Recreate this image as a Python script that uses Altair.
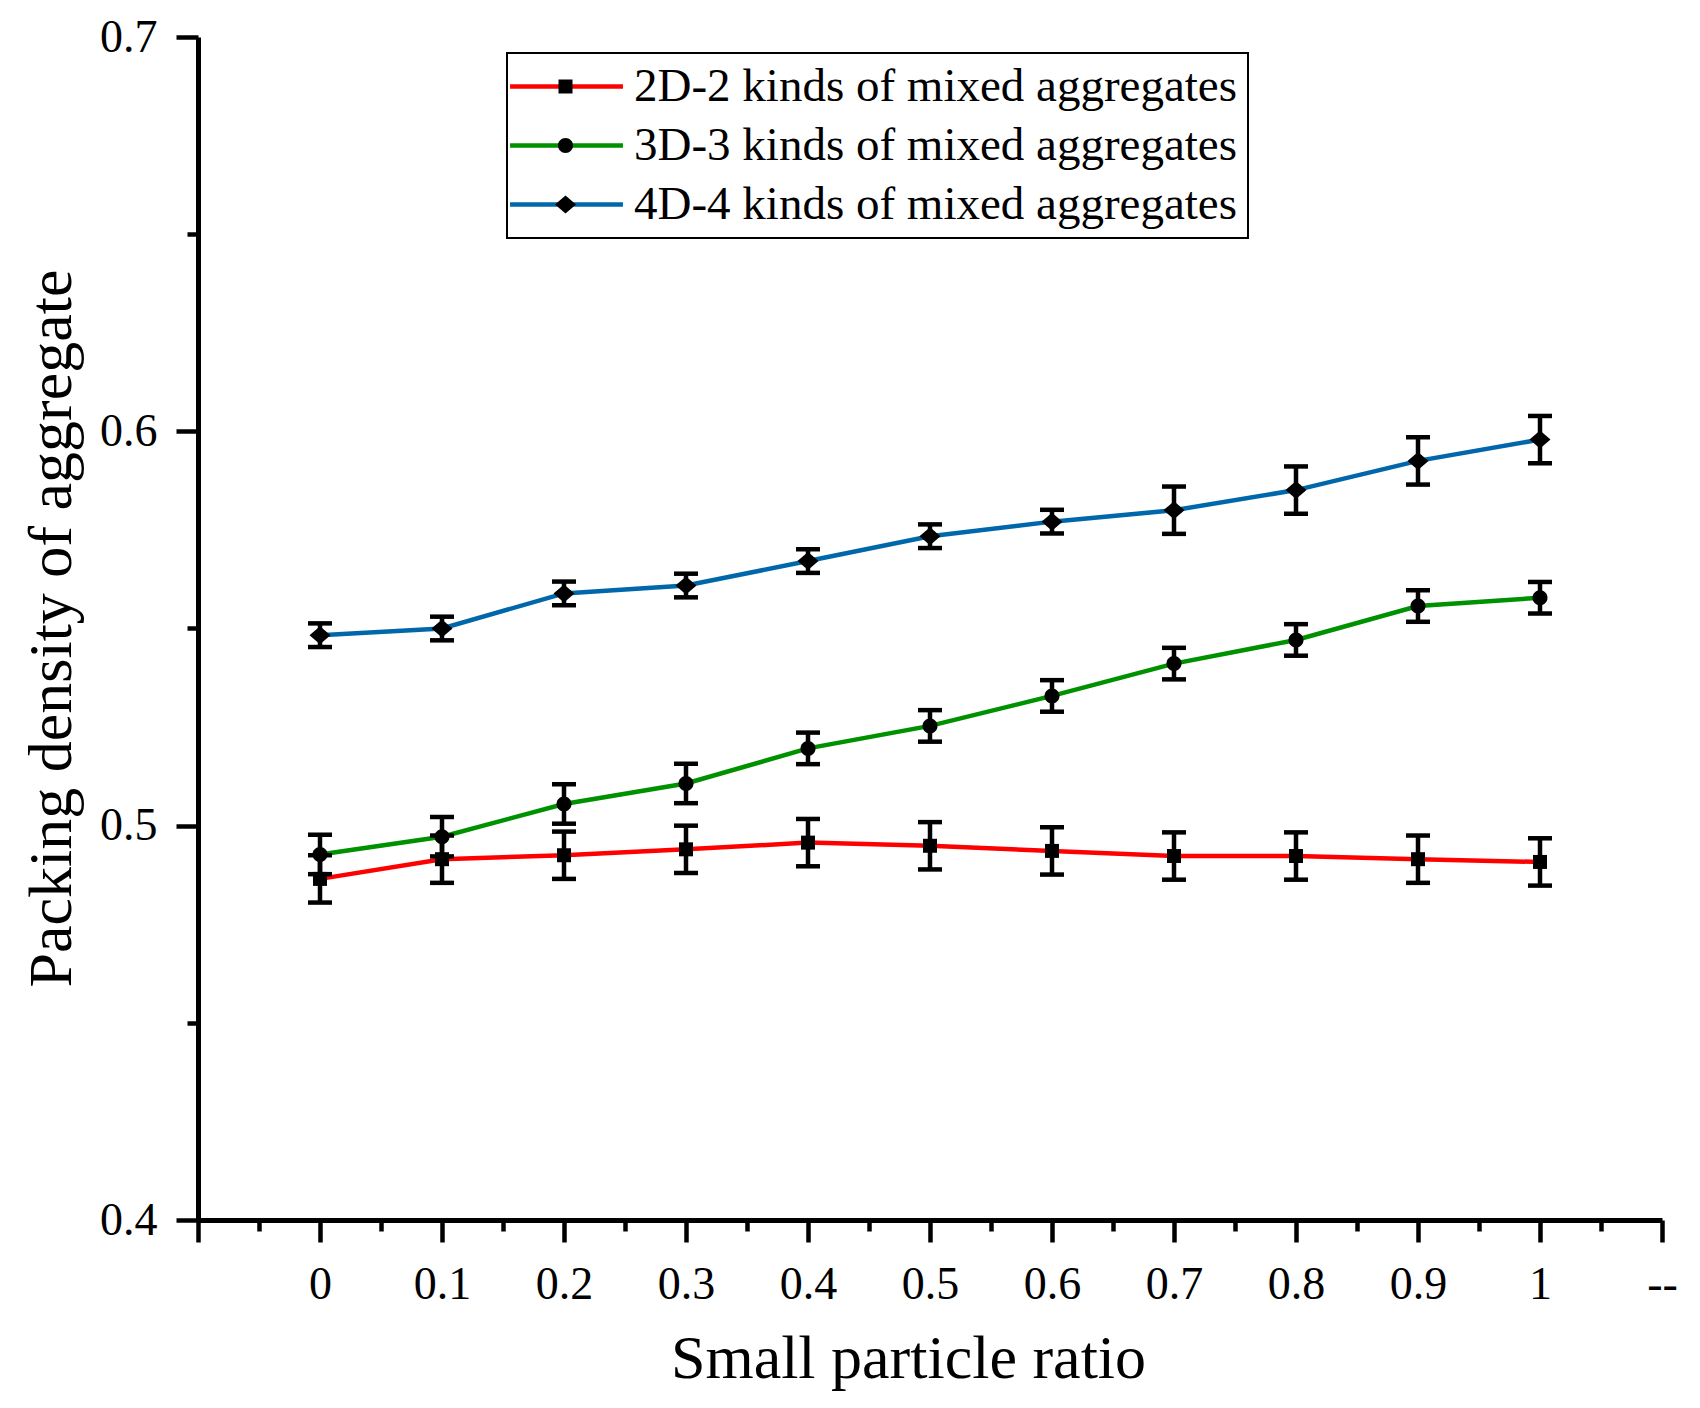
import altair as alt
import pandas as pd

# ---- data ----
ratio = [0.0, 0.1, 0.2, 0.3, 0.4, 0.5, 0.6, 0.7, 0.8, 0.9, 1.0]

series_names = [
    "2D-2 kinds of mixed aggregates",
    "3D-3 kinds of mixed aggregates",
    "4D-4 kinds of mixed aggregates",
]

d2_mean = [0.4865, 0.4915, 0.4925, 0.4940, 0.4957, 0.4949, 0.4936, 0.4923, 0.4923, 0.4915, 0.4908]
d2_err = [0.006, 0.006, 0.006, 0.006, 0.006, 0.006, 0.006, 0.006, 0.006, 0.006, 0.006]

d3_mean = [0.4927, 0.4972, 0.5055, 0.5107, 0.5196, 0.5253, 0.5329, 0.5411, 0.5471, 0.5557, 0.5578]
d3_err = [0.005, 0.005, 0.005, 0.005, 0.004, 0.004, 0.004, 0.004, 0.004, 0.004, 0.004]

d4_mean = [0.5483, 0.5500, 0.5589, 0.5609, 0.5671, 0.5734, 0.5771, 0.5800, 0.5851, 0.5925, 0.5979]
d4_err = [0.003, 0.003, 0.003, 0.003, 0.003, 0.003, 0.003, 0.006, 0.006, 0.006, 0.006]

line_colors = ["#FF0000", "#009100", "#0068AA"]

x_tick_values = [round(-0.1 + 0.05 * i, 2) for i in range(25)]
y_tick_values = [round(0.4 + 0.05 * i, 2) for i in range(7)]

rows = []
for name, means, errs in zip(series_names, [d2_mean, d3_mean, d4_mean], [d2_err, d3_err, d4_err]):
    for xv, m, e in zip(ratio, means, errs):
        rows.append({"ratio": xv, "density": m, "err": e, "series": name, "marker": name})
df = pd.DataFrame(rows)

FONT = "Liberation Serif"

square = "M-0.7,-0.7H0.7V0.7H-0.7Z"
circle = "M-0.75,0A0.75,0.75 0 1,0 0.75,0A0.75,0.75 0 1,0 -0.75,0Z"
diamond = "M-1.05,0L0,-0.9L1.05,0L0,0.9Z"

major_x = "abs(datum.value*10 - round(datum.value*10)) < 0.001"
x_axis = alt.Axis(
    values=x_tick_values,
    labelExpr=(
        "abs(datum.value - 1.1) < 0.001 ? '--' : "
        "((abs(datum.value*10 - round(datum.value*10)) < 0.001 && datum.value > -0.05) ? format(datum.value, '~g') : '')"
    ),
    tickSize={"condition": {"test": major_x, "value": 22}, "value": 11},
    tickWidth=4.5,
    tickColor="black",
    domainWidth=5,
    domainColor="black",
    grid=False,
    labelFont=FONT,
    labelFontSize=46,
    labelColor="black",
    labelPadding=20,
    labelFlush=False,
    labelOverlap=False,
    title="Small particle ratio",
    titleFont=FONT,
    titleFontSize=62,
    titleFontWeight="normal",
    titleColor="black",
    titleX=710,
    titleY=157,
    titleAlign="center",
    titleBaseline="alphabetic",
)

major_y = "abs(datum.value*10 - round(datum.value*10)) < 0.001"
y_axis = alt.Axis(
    values=y_tick_values,
    labelExpr="(abs(datum.value*10 - round(datum.value*10)) < 0.001) ? format(datum.value, '.1f') : ''",
    tickSize={"condition": {"test": major_y, "value": 22}, "value": 11},
    tickWidth=4.5,
    tickColor="black",
    domainWidth=5,
    domainColor="black",
    grid=False,
    labelFont=FONT,
    labelFontSize=46,
    labelColor="black",
    labelPadding=19,
    labelFlush=False,
    labelOverlap=False,
    title="Packing density of aggregate",
    titleFont=FONT,
    titleFontSize=62,
    titleFontWeight="normal",
    titleColor="black",
    titleX=-128,
    titleY=591,
    titleAngle=-90,
    titleAlign="center",
    titleBaseline="alphabetic",
)

x_scale = alt.Scale(domain=[-0.1, 1.1], nice=False, zero=False)
y_scale = alt.Scale(domain=[0.4, 0.7], nice=False, zero=False)


def x_enc():
    return alt.X("ratio:Q", scale=x_scale, axis=x_axis, title="Small particle ratio")


def y_enc():
    return alt.Y("density:Q", scale=y_scale, axis=y_axis, title="Packing density of aggregate")


lines = alt.Chart(df).mark_line(strokeWidth=4.5).encode(
    x=x_enc(),
    y=y_enc(),
    color=alt.Color(
        "series:N",
        scale=alt.Scale(domain=series_names, range=line_colors),
        legend=alt.Legend(
            title=None,
            orient="none",
            legendX=309,
            legendY=16,
            symbolType="M-5,0H5",
            symbolSize=510,
            symbolStrokeWidth=4.5,
            symbolOffset=26,
            labelOffset=44,
            labelFont=FONT,
            labelFontSize=47,
            labelColor="black",
            labelLimit=1000,
            rowPadding=11,
            padding=10,
            strokeColor="black",
        ),
    ),
)

errbars = alt.Chart(df).mark_errorbar(
    color="black",
    opacity=1,
    thickness=4.5,
    ticks={"size": 24, "thickness": 4.5, "color": "black", "opacity": 1},
    rule={"strokeWidth": 4.5, "color": "black", "opacity": 1},
).encode(
    x=x_enc(),
    y=y_enc(),
    yError=alt.YError("err:Q"),
    detail="series:N",
)

points = alt.Chart(df).mark_point(filled=True, size=400, color="black", opacity=1, strokeWidth=0).encode(
    x=x_enc(),
    y=y_enc(),
    shape=alt.Shape(
        "marker:N",
        scale=alt.Scale(domain=series_names, range=[square, circle, diamond]),
        legend=alt.Legend(
            title=None,
            orient="none",
            legendX=309,
            legendY=16,
            symbolSize=400,
            symbolFillColor="black",
            symbolStrokeWidth=0,
            symbolOffset=25,
            labelOffset=44,
            labelFont=FONT,
            labelFontSize=47,
            labelOpacity=0,
            labelLimit=1000,
            rowPadding=11,
            padding=10,
            strokeColor="transparent",
        ),
    ),
)

chart = (
    alt.layer(lines, errbars, points)
    .resolve_legend(color="independent", shape="independent")
    .properties(
        width=1464,
        height=1183,
        autosize=alt.AutoSizeParams(type="none"),
        padding={"left": 190, "top": 29, "right": 30, "bottom": 180},
    )
    .configure(font=FONT, background="white")
    .configure_view(stroke="transparent", strokeWidth=0)
    .configure_legend(strokeWidth=2)
)

chart.save("out.html", embed_options={"renderer": "svg", "actions": False})
